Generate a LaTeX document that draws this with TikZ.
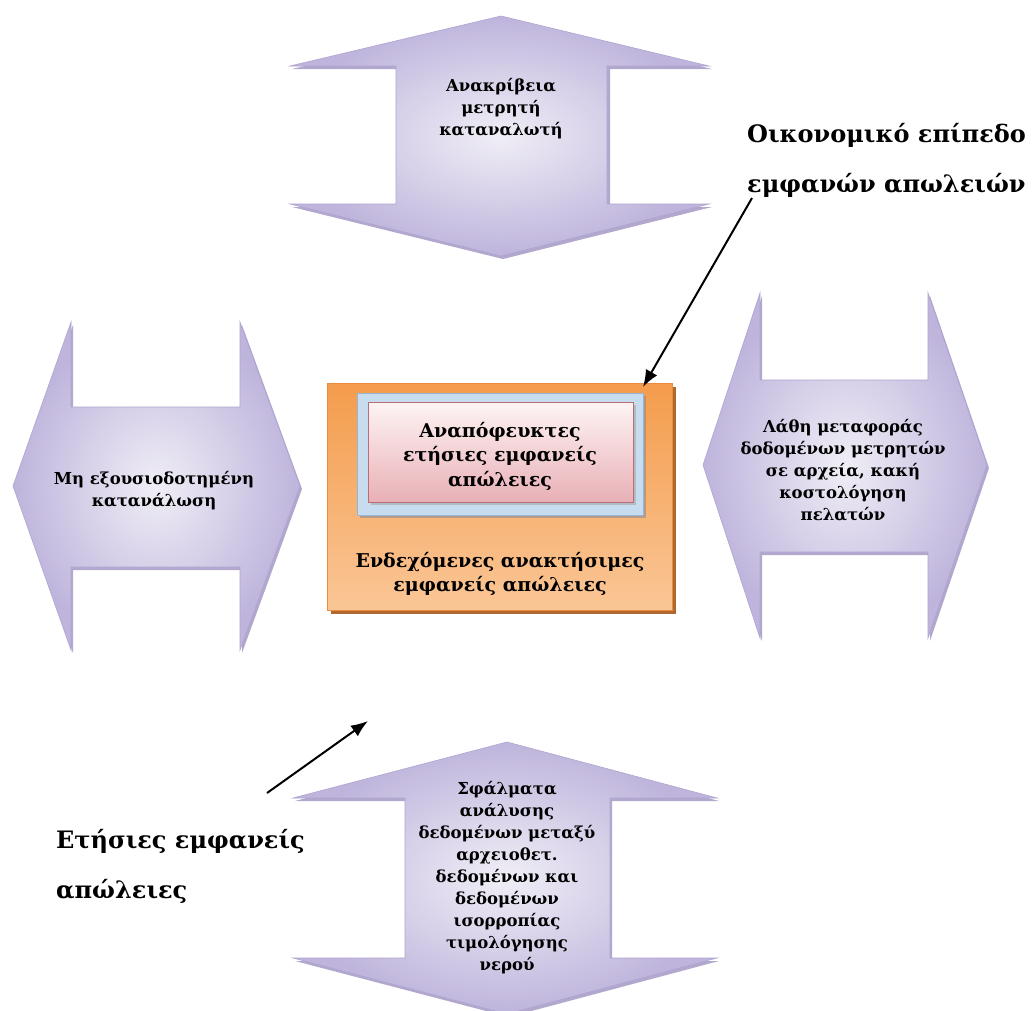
\documentclass[tikz,border=0pt]{standalone}
\usepackage{fontspec}
\setmainfont{DejaVu Serif}
\usetikzlibrary{arrows.meta}
\definecolor{arrowIn}{RGB}{240,238,246}
\definecolor{arrowOut}{RGB}{190,180,220}
\definecolor{arrowEdge}{RGB}{176,164,208}
\definecolor{arrowShadow}{RGB}{146,132,184}
\definecolor{orTop}{RGB}{244,156,76}
\definecolor{orBot}{RGB}{250,198,150}
\definecolor{orEdge}{RGB}{232,140,62}
\definecolor{orShadow}{RGB}{176,104,48}
\definecolor{blFill}{RGB}{200,220,240}
\definecolor{blEdge}{RGB}{150,180,214}
\definecolor{pkTop}{RGB}{254,244,244}
\definecolor{pkBot}{RGB}{232,176,182}
\definecolor{pkEdge}{RGB}{184,110,118}
\tikzset{
  darrow/.style={shading=radial, inner color=arrowIn, outer color=arrowOut, draw=arrowEdge, line width=0.6pt, line join=miter},
  dshadow/.style={fill=arrowShadow, opacity=0.7},
  lbl/.style={align=center, font=\bfseries\fontsize{16.5}{22}\selectfont, text=black, inner sep=0pt},
  boxlbl/.style={align=center, font=\bfseries\fontsize{19}{24.5}\selectfont, text=black, inner sep=0pt},
  big/.style={align=left, font=\bfseries\fontsize{24}{50}\selectfont, text=black, inner sep=0pt, anchor=west},
  ptr/.style={-{Latex[length=17pt,width=13pt]}, line width=2pt, black},
}
\begin{document}
\begin{tikzpicture}[x=1pt,y=-1pt]
\useasboundingbox (0,0) rectangle (1034,1010);
\fill[white] (0,0) rectangle (1034,1010);

% ---------- top double arrow ----------
\fill[dshadow] (503,19) -- (712,69) -- (610,69) -- (610,207) -- (712,207) -- (503,259) -- (292,207) -- (398,207) -- (398,69) -- (292,69) -- cycle;
\path[darrow] (501,16) -- (709,66) -- (607,66) -- (607,204) -- (709,204) -- (501,256) -- (290,204) -- (396,204) -- (396,66) -- (290,66) -- cycle;
\node[lbl] (top) at (501,109) {Ανακρίβεια\\μετρητή\\καταναλωτή};

% ---------- left double arrow ----------
\fill[dshadow] (15,489) -- (73,325) -- (73,410) -- (242,410) -- (242,325) -- (302,489) -- (242,653) -- (242,570) -- (73,570) -- (73,653) -- cycle;
\path[darrow] (13,486) -- (71,322) -- (71,407) -- (240,407) -- (240,322) -- (300,486) -- (240,650) -- (240,567) -- (71,567) -- (71,650) -- cycle;
\node[lbl] (left) at (154,491) {Μη εξουσιοδοτημένη\\κατανάλωση};

% ---------- right double arrow ----------
\fill[dshadow] (705,468) -- (762,296) -- (762,383) -- (930,383) -- (930,296) -- (989,468) -- (930,641) -- (930,555) -- (762,555) -- (762,641) -- cycle;
\path[darrow] (703,465) -- (760,293) -- (760,380) -- (928,380) -- (928,293) -- (987,465) -- (928,638) -- (928,552) -- (760,552) -- (760,638) -- cycle;
\node[lbl] (right) at (843,470) {Λάθη μεταφοράς\\δοδομένων μετρητών\\σε αρχεία, κακή\\κοστολόγηση\\πελατών};

% ---------- bottom double arrow ----------
\fill[dshadow] (509,745) -- (719,801) -- (612,801) -- (612,961) -- (719,961) -- (509,1017) -- (295,961) -- (407,961) -- (407,801) -- (295,801) -- cycle;
\path[darrow] (507,742) -- (717,798) -- (610,798) -- (610,958) -- (717,958) -- (507,1014) -- (293,958) -- (405,958) -- (405,798) -- (293,798) -- cycle;
\node[lbl] (bottom) at (507,878) {Σφάλματα\\ανάλυσης\\δεδομένων μεταξύ\\αρχειοθετ.\\δεδομένων και\\δεδομένων\\ισορροπίας\\τιμολόγησης\\νερού};

% ---------- central boxes ----------
\fill[orShadow] (331,387) rectangle (676,614);
\path[top color=orTop, bottom color=orBot, draw=orEdge, line width=0.8pt] (327,383) rectangle (672,610);
\coordinate (orangeNE) at (643,387);
\fill[black!45, opacity=0.6] (360,396) rectangle (646,518);
\path[fill=blFill, draw=blEdge, line width=0.8pt] (357,393) rectangle (643,515);
\fill[black!35, opacity=0.6] (371,405) rectangle (636,505);
\path[top color=pkTop, bottom color=pkBot, draw=pkEdge, line width=0.8pt] (368,402) rectangle (633,502);
\node[boxlbl] (inner) at (500,456) {Αναπόφευκτες\\ετήσιες εμφανείς\\απώλειες};
\node[boxlbl] (outer) at (500,574) {Ενδεχόμενες ανακτήσιμες\\εμφανείς απώλειες};

% ---------- free labels and pointers ----------
\node[big] (econ) at (747,160) {Οικονομικό επίπεδο\\εμφανών απωλειών};
\node[big] (annual) at (56,866) {Ετήσιες εμφανείς\\απώλειες};
\coordinate (econStart) at (752,198);
\coordinate (annualStart) at (267,793);
\coordinate (annualEnd) at (368,721);
\draw[ptr] (econStart) -- (orangeNE);
\draw[ptr] (annualStart) -- (annualEnd);
\end{tikzpicture}
\end{document}
